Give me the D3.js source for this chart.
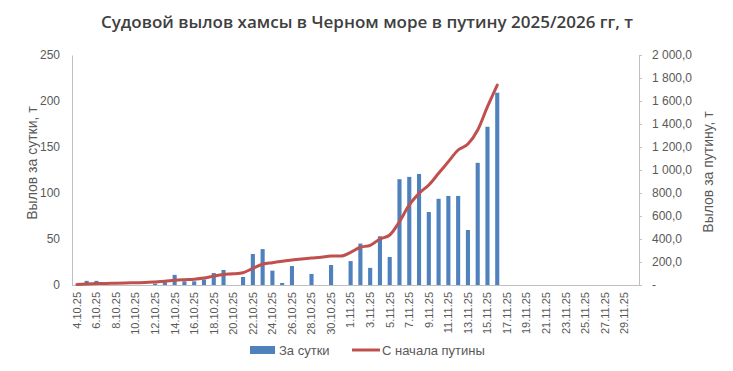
<!DOCTYPE html>
<meta charset="utf-8">
<script src="https://cdn.jsdelivr.net/npm/d3@7"></script>
<style>
  body { margin: 0; background: #fff; }
  text { font-family: "Liberation Sans", Arial, sans-serif; fill: #595959; }
</style>
<div id="chart"></div>
<script>

// categories: every day from 4.10.25 to 30.11.25
var days = [
  "4.10.25","5.10.25","6.10.25","7.10.25","8.10.25","9.10.25","10.10.25","11.10.25",
  "12.10.25","13.10.25","14.10.25","15.10.25","16.10.25","17.10.25","18.10.25","19.10.25",
  "20.10.25","21.10.25","22.10.25","23.10.25","24.10.25","25.10.25","26.10.25","27.10.25",
  "28.10.25","29.10.25","30.10.25","31.10.25","1.11.25","2.11.25","3.11.25","4.11.25",
  "5.11.25","6.11.25","7.11.25","8.11.25","9.11.25","10.11.25","11.11.25","12.11.25",
  "13.11.25","14.11.25","15.11.25","16.11.25","17.11.25","18.11.25","19.11.25","20.11.25",
  "21.11.25","22.11.25","23.11.25","24.11.25","25.11.25","26.11.25","27.11.25","28.11.25",
  "29.11.25","30.11.25"
];

// catch per day, t
var perDay = [
  0, 4.5, 4.5, 0, 0, 0, 0, 0,
  1.5, 5.4, 11, 4, 4, 6, 13, 16.3,
  0, 8.7, 33.7, 39, 15.6, 2.2, 20.6, 0,
  12, 0, 21.7, 0, 26, 45, 18.6, 53,
  30.4, 115, 117.5, 120.7, 79.3, 93.7, 96.8, 96.8,
  59.8, 132.8, 172, 209
];

// catch since start of season, t
var sinceStart = [
  5, 9, 12, 13, 16, 18, 20, 22,
  27, 33, 41, 46, 50, 60, 78, 92,
  97, 107, 145, 180, 194, 206, 217, 226,
  234, 241, 252, 252, 284, 328, 345, 400,
  435, 551, 696, 797, 870, 971, 1073, 1174,
  1226, 1348, 1551, 1739
];

var leftTicks = [0, 50, 100, 150, 200, 250];
var rightTicks = [0, 200, 400, 600, 800, 1000, 1200, 1400, 1600, 1800, 2000];

var W = 733, H = 371;
var plot = {left: 72, right: 639, top: 55, bottom: 285};

var svg = d3.select("#chart").append("svg")
  .attr("width", W).attr("height", H);

var x = d3.scaleBand().domain(days).range([plot.left, plot.right]).paddingInner(0.58).paddingOuter(0.29);
var xc = function(i) { return x(days[i]) + x.bandwidth() / 2; };
var yL = d3.scaleLinear().domain([0, 250]).range([plot.bottom, plot.top]);
var yR = d3.scaleLinear().domain([0, 2000]).range([plot.bottom, plot.top]);

var fmtR = function(v) {
  if (v === 0) return "-";
  return d3.format(",.1f")(v).replace(/,/g, "\u00a0").replace(".", ",");
};

// title
svg.append("text")
  .attr("x", 367).attr("y", 28)
  .attr("text-anchor", "middle")
  .style("font-family", "'Open Sans', sans-serif")
  .style("font-size", "17px").style("font-weight", "600")
  .style("fill", "#404040")
  .text("Судовой вылов хамсы в Черном море в путину 2025/2026 гг, т");

// left axis
var gL = svg.append("g").attr("transform", "translate(" + plot.left + ",0)")
  .call(d3.axisLeft(yL).tickValues(leftTicks).tickSize(0).tickPadding(12));
gL.select(".domain").attr("stroke", "#bfbfbf");
gL.selectAll("text").style("font-size", "12px").style("fill", "#595959");

// right axis
var gR = svg.append("g").attr("transform", "translate(" + plot.right + ",0)")
  .call(d3.axisRight(yR).tickValues(rightTicks).tickFormat(fmtR).tickSize(3).tickPadding(10));
gR.selectAll(".domain, line").attr("stroke", "#bfbfbf");
gR.selectAll("text").style("font-size", "12px").style("fill", "#595959");

// bottom axis
var gB = svg.append("g").attr("transform", "translate(0," + plot.bottom + ")")
  .call(d3.axisBottom(x).tickValues(days.filter(function(d, i) { return i % 2 === 0; })).tickSize(0));
gB.select(".domain").attr("stroke", "#bfbfbf").attr("d", "M" + plot.left + ",0.5H" + plot.right);
gB.selectAll("text")
  .attr("transform", "rotate(-90)")
  .attr("text-anchor", "end")
  .attr("x", -7).attr("y", 0).attr("dy", "0.35em")
  .style("font-size", "11px").style("fill", "#595959");

// axis titles
svg.append("text")
  .attr("transform", "translate(37,163) rotate(-90)")
  .attr("text-anchor", "middle")
  .style("font-size", "14px")
  .text("Вылов за сутки, т");
svg.append("text")
  .attr("transform", "translate(713,172) rotate(-90)")
  .attr("text-anchor", "middle")
  .style("font-size", "14px")
  .text("Вылов за путину, т");

// bars
svg.append("g").selectAll("rect")
  .data(perDay)
  .join("rect")
  .attr("x", function(d, i) { return x(days[i]); })
  .attr("width", x.bandwidth())
  .attr("y", function(d) { return yL(d); })
  .attr("height", function(d) { return plot.bottom - yL(d); })
  .attr("fill", "#4f81bd");

// cumulative line
var line = d3.line()
  .x(function(d, i) { return xc(i); })
  .y(function(d) { return yR(d); })
  .curve(d3.curveMonotoneX);
svg.append("path")
  .datum(sinceStart)
  .attr("d", line)
  .attr("fill", "none")
  .attr("stroke", "#c0504d")
  .attr("stroke-width", 3)
  .attr("stroke-linecap", "round");

// legend
var lg = svg.append("g");
lg.append("rect").attr("x", 250).attr("y", 346).attr("width", 25).attr("height", 8).attr("fill", "#4f81bd");
lg.append("text").attr("x", 279).attr("y", 355).style("font-size", "13px").text("За сутки");
lg.append("line").attr("x1", 352).attr("x2", 380).attr("y1", 350).attr("y2", 350)
  .attr("stroke", "#c0504d").attr("stroke-width", 3);
lg.append("text").attr("x", 382).attr("y", 355).style("font-size", "13px").text("С начала путины");

</script>
